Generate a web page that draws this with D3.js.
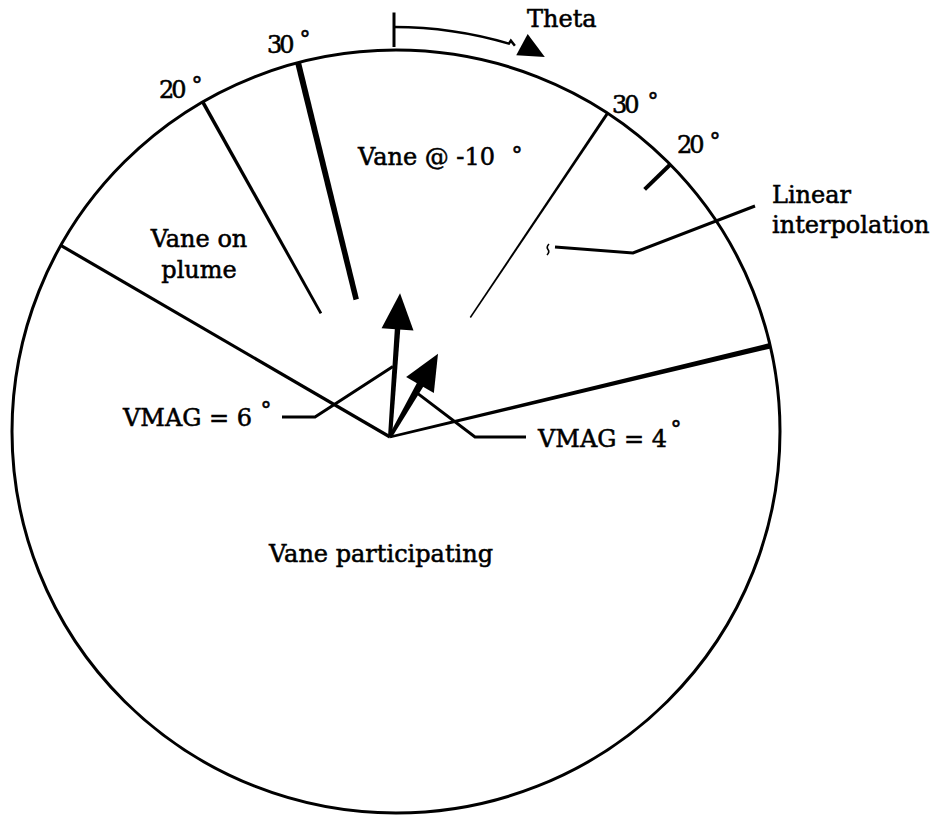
<!DOCTYPE html>
<html><head><meta charset="utf-8">
<script src="https://cdn.jsdelivr.net/npm/d3@7"></script>
<style>
html,body{margin:0;padding:0;background:#fff;}
svg{display:block;}
text{font-family:"DejaVu Serif",serif;fill:#000;stroke:#000;stroke-width:0.55px;}
</style>
</head><body>
<svg id="chart" width="937" height="815"></svg>
<script>
// ---------------- data ----------------
// angles are Theta, degrees clockwise from the top; radii in VMAG degrees
const boundaryAngles   = [-59.8, 76.5];          // edges of "Vane participating"
const thresholdLabels  = ["20", "30", "30", "20"];
const thresholdAngles  = [-29.2, -13.8, 33.9, 45.8];
const thresholdInner   = [5.9, 5.9, 6.0, 14.8];   // where each threshold line starts
const vectorLabels     = ["VMAG = 6", "VMAG = 4"];
const vectorMagnitudes = [6, 4];
const vectorDirections = [4, 30];
const regionLabels     = ["Vane on", "plume", "Vane @ -10", "Linear", "interpolation", "Vane participating"];
const thetaSpan        = [0, 16.5];

// ---------------- layout ----------------
const svg = d3.select("#chart");
const hub = {x: 390, y: 437};
const rim = {cx: 396, cy: 431.5, rx: 384, ry: 381.5};
const rScale = d3.scaleLinear().domain([0, 1]).range([0, 24]);
const aScale = d3.scaleLinear().domain([0, 360]).range([0, 2 * Math.PI]);

function polar(theta, rpx, c) {
  c = c || hub;
  const a = aScale(theta);
  return [c.x + rpx * Math.sin(a), c.y - rpx * Math.cos(a)];
}
function rimDistance(theta) {
  const a = aScale(theta), ux = Math.sin(a), uy = -Math.cos(a);
  const dx = hub.x - rim.cx, dy = hub.y - rim.cy;
  const A = (ux * ux) / (rim.rx * rim.rx) + (uy * uy) / (rim.ry * rim.ry);
  const B = 2 * ((dx * ux) / (rim.rx * rim.rx) + (dy * uy) / (rim.ry * rim.ry));
  const C = (dx * dx) / (rim.rx * rim.rx) + (dy * dy) / (rim.ry * rim.ry) - 1;
  return (-B + Math.sqrt(B * B - 4 * A * C)) / (2 * A);
}
function taper(p1, p2, w1, w2) {
  const dx = p2[0] - p1[0], dy = p2[1] - p1[1], L = Math.hypot(dx, dy);
  const nx = -dy / L, ny = dx / L;
  return [[p1[0] + nx * w1 / 2, p1[1] + ny * w1 / 2], [p2[0] + nx * w2 / 2, p2[1] + ny * w2 / 2],
          [p2[0] - nx * w2 / 2, p2[1] - ny * w2 / 2], [p1[0] - nx * w1 / 2, p1[1] - ny * w1 / 2]];
}
const line = d3.line();

// outer circle
svg.append("ellipse")
  .attr("cx", rim.cx).attr("cy", rim.cy).attr("rx", rim.rx).attr("ry", rim.ry)
  .attr("fill", "none").attr("stroke", "#000").attr("stroke-width", 3);

// boundaries of the "Vane participating" zone
const boundaryWidths = [[3.2, 3.2], [2.5, 5.5]];
svg.selectAll("path.boundary").data(boundaryAngles).join("path")
  .attr("class", "boundary")
  .attr("d", (d, i) => line(taper([hub.x, hub.y], polar(d, rimDistance(d)), boundaryWidths[i][0], boundaryWidths[i][1])) + "Z")
  .attr("fill", "#000");

// threshold lines (20 / 30 deg)
const thresholdWidths = [[2.8, 3.6], [5.5, 6], [1.5, 3], [4, 4]];
svg.selectAll("path.thresh").data(thresholdAngles).join("path")
  .attr("class", "thresh")
  .attr("d", (d, i) => line(taper(polar(d, rScale(thresholdInner[i])), polar(d, rimDistance(d)),
        thresholdWidths[i][0], thresholdWidths[i][1])) + "Z")
  .attr("fill", "#000");

// threshold labels
const thresholdLabelPos = [[159, 98, 197, 80], [267, 53, 305, 34], [612, 113, 653, 96], [677, 153, 715, 136]];
thresholdLabels.forEach((t, i) => {
  const p = thresholdLabelPos[i];
  svg.append("text").attr("x", p[0]).attr("y", p[1]).attr("font-size", 24)
    .attr("letter-spacing", -3).text(t);
  svg.append("text").attr("x", p[2]).attr("y", p[3] + 13).attr("font-size", 22)
    .attr("text-anchor", "middle").text("°");
});

// vectors
const headLen = 36, headW = 32;
const shaftWidths = [[4, 5.5], [3.5, 7.5]];
vectorMagnitudes.forEach((m, i) => {
  const th = vectorDirections[i];
  const L = rScale(m);
  const tip = polar(th, L), base = polar(th, L - headLen);
  svg.append("path").attr("d", line(taper([hub.x, hub.y], polar(th, L - headLen + 3), shaftWidths[i][0], shaftWidths[i][1])) + "Z")
    .attr("fill", "#000");
  const a = aScale(th), nx = Math.cos(a), ny = Math.sin(a);
  svg.append("path").attr("d", line([tip, [base[0] + nx * headW / 2, base[1] + ny * headW / 2],
      [base[0] - nx * headW / 2, base[1] - ny * headW / 2]]) + "Z").attr("fill", "#000");
});

// vector leaders and labels
const lead6 = polar(vectorDirections[0], rScale(vectorMagnitudes[0]) * 0.49);
const lead4 = polar(vectorDirections[1], rScale(vectorMagnitudes[1]) * 0.54);
const leaders = [
  [[282, 417], [315, 417], [lead6[0] - 2, lead6[1]]],
  [lead4, [475, 437], [526, 437]],
  [[555, 247], [633, 253], [755, 206]]
];
svg.selectAll("path.leader").data(leaders).join("path")
  .attr("class", "leader").attr("d", d => line(d))
  .attr("fill", "none").attr("stroke", "#000").attr("stroke-width", 3);
// little squiggle at the end of the interpolation leader
svg.append("path").attr("d", "M549,244 q-3,3 -1,5.5 q2,2.5 -1,5.5")
  .attr("fill", "none").attr("stroke", "#000").attr("stroke-width", 1.6);

svg.append("text").attr("x", 123).attr("y", 426).attr("font-size", 24).text(vectorLabels[0]);
svg.append("text").attr("x", 266).attr("y", 418).attr("font-size", 22).attr("text-anchor", "middle").text("°");
svg.append("text").attr("x", 538).attr("y", 447).attr("font-size", 24).text(vectorLabels[1]);
svg.append("text").attr("x", 676).attr("y", 437).attr("font-size", 22).attr("text-anchor", "middle").text("°");

// region labels
svg.append("text").attr("x", 199).attr("y", 247).attr("font-size", 24).attr("text-anchor", "middle").text(regionLabels[0]);
svg.append("text").attr("x", 199).attr("y", 278).attr("font-size", 24).attr("text-anchor", "middle").text(regionLabels[1]);
svg.append("text").attr("x", 358).attr("y", 165).attr("font-size", 24).text(regionLabels[2]);
svg.append("text").attr("x", 517).attr("y", 163).attr("font-size", 22).attr("text-anchor", "middle").text("°");
svg.append("text").attr("x", 772).attr("y", 203).attr("font-size", 24).text(regionLabels[3]);
svg.append("text").attr("x", 772).attr("y", 233).attr("font-size", 24).text(regionLabels[4]);
svg.append("text").attr("x", 381).attr("y", 562).attr("font-size", 24).attr("text-anchor", "middle").text(regionLabels[5]);

// Theta indicator
const tc = {x: rim.cx - 2, y: rim.cy};
const R = 404.5;
svg.append("path").attr("d", line([polar(thetaSpan[0], rim.ry + 3, tc), polar(thetaSpan[0], rim.ry + 37.5, tc)]))
  .attr("stroke", "#000").attr("stroke-width", 3).attr("fill", "none");
const p = d3.path();
const s0 = polar(thetaSpan[0], R, tc);
p.moveTo(s0[0], s0[1]);
p.arc(tc.x, tc.y, R, aScale(thetaSpan[0]) - Math.PI / 2, aScale(thetaSpan[1]) - Math.PI / 2);
const e1 = polar(thetaSpan[1], R, tc);
p.lineTo(e1[0] + 2, e1[1] - 3);
p.lineTo(e1[0] + 6, e1[1] + 2);
svg.append("path").attr("d", p.toString()).attr("fill", "none").attr("stroke", "#000").attr("stroke-width", 2.5);
// arrow head tangent to the arc
const hb = polar(thetaSpan[1] + 1.8, R + 3, tc);
const ta = aScale(thetaSpan[1] + 12);
const tx = Math.cos(ta), ty = Math.sin(ta);
const hl = 26, hw = 24;
svg.append("path").attr("d", line([
  [hb[0] + tx * hl, hb[1] + ty * hl],
  [hb[0] - ty * hw / 2, hb[1] + tx * hw / 2],
  [hb[0] + ty * hw / 2, hb[1] - tx * hw / 2]
]) + "Z").attr("fill", "#000");
svg.append("text").attr("x", 527).attr("y", 27).attr("font-size", 24).text("Theta");
</script>
</body></html>
